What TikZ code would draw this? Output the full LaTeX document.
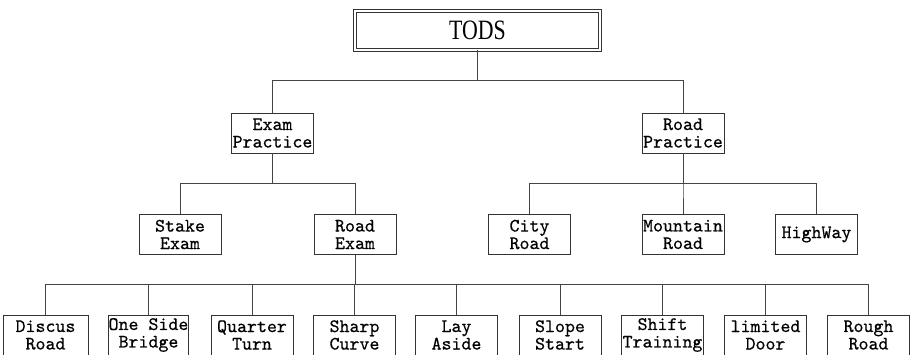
\documentclass[tikz,border=0pt]{standalone}
\usepackage{fontspec}
\newfontfamily\monof[Extension=.otf,FakeBold=0.5]{lmmono10-regular}
\newfontfamily\titlef[FakeStretch=0.78]{Liberation Serif}
\definecolor{linec}{HTML}{444444}
\definecolor{boxc}{HTML}{333333}
\begin{document}
\begin{tikzpicture}[x=1pt,y=-1pt,
  box/.style={draw=boxc, line width=0.9pt, rectangle, inner sep=0pt, minimum width=82pt, minimum height=40pt, align=center, font=\monof\fontsize{19}{17.5}\selectfont},
  conn/.style={draw=linec, line width=1pt}]
\useasboundingbox (0,0) rectangle (910,354);
\node[draw=boxc, line width=0.8pt, double, double distance=1.6pt, rectangle, inner sep=0pt, minimum width=245pt, minimum height=39pt, font=\titlef\fontsize{28}{30}\selectfont] (tods) at (477.5,30.5) {TODS};
\node[box] (ep) at (272.5,133) {Exam\\Practice};
\node[box] (rp) at (683,133) {Road\\Practice};
\node[box] (se) at (180,234.5) {Stake\\Exam};
\node[box] (re) at (355,234.5) {Road\\Exam};
\node[box] (cr) at (529.5,234.5) {City\\Road};
\node[box] (mr) at (683,234.5) {Mountain\\Road};
\node[box] (hw) at (816.5,234.5) {HighWay};
\node[box, minimum width=85pt] (dr) at (45.5,335) {Discus\\Road};
\node[box, minimum width=79pt] (ob) at (148.5,335) {One Side\\Bridge};
\node[box] (qt) at (252,335) {Quarter\\Turn};
\node[box] (sc) at (354.5,335) {Sharp\\Curve};
\node[box] (la) at (456.5,335) {Lay\\Aside};
\node[box] (ss) at (560,335) {Slope\\Start};
\node[box] (st) at (662.5,335) {Shift\\Training};
\node[box] (ld) at (765.5,335) {limited\\Door};
\node[box] (rr) at (868.5,335) {Rough\\Road};
% connectors
\foreach \c in {ep,rp} \draw[conn] (tods.south) -- ++(0,30) -| (\c.north);
\foreach \c in {se,re} \draw[conn] (ep.south) -- ++(0,30) -| (\c.north);
\foreach \c in {cr,mr,hw} \draw[conn] (rp.south) -- ++(0,30) -| (\c.north);
\foreach \c in {dr,ob,qt,sc,la,ss,st,ld,rr} \draw[conn] (re.south) -- ++(0,29.5) -| (\c.north);
\end{tikzpicture}
\end{document}
